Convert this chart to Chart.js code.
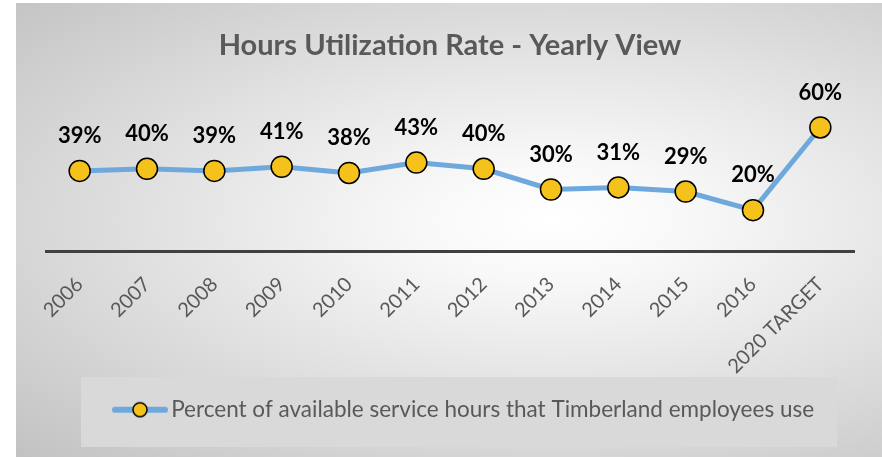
<!DOCTYPE html>
<html>
<head>
<meta charset="utf-8">
<script src="https://cdn.jsdelivr.net/npm/chart.js@4.4.0/dist/chart.umd.min.js"></script>
<style>
  html, body { margin: 0; padding: 0; background: #ffffff; }
  #wrap {
    position: absolute;
    left: 16px;
    top: 3px;
    width: 866px;
    height: 454px;
    background: radial-gradient(ellipse farthest-corner at 62% 48%, #ffffff 0%, #f8f8f8 18%, #c2c2c2 100%);
  }
</style>
</head>
<body>
<div id="wrap"><canvas id="util-chart"></canvas></div>
<script>
// Chart data
const years = ['2006', '2007', '2008', '2009', '2010', '2011', '2012', '2013', '2014', '2015', '2016', '2020 TARGET'];
const utilization = [39, 40, 39, 41, 38, 43, 40, 30, 31, 29, 20, 60];
const seriesName = 'Percent of available service hours that Timberland employees use';
const chartTitle = 'Hours Utilization Rate - Yearly View';

const LINE_BLUE = '#6fa8dc';
const MARKER_GOLD = '#f5c21b';
const TEXT_GRAY = '#595959';

// Legend symbol: short line with a marker in the middle (drawn right-aligned
// in a wider canvas so it sits close to the legend text).
const legendSymbol = document.createElement('canvas');
legendSymbol.width = 76;
legendSymbol.height = 22;
(function() {
    const c = legendSymbol.getContext('2d');
    c.strokeStyle = LINE_BLUE;
    c.lineWidth = 6;
    c.lineCap = 'round';
    c.beginPath();
    c.moveTo(21, 11);
    c.lineTo(71, 11);
    c.stroke();
    c.beginPath();
    c.arc(46, 11, 7, 0, Math.PI * 2);
    c.fillStyle = MARKER_GOLD;
    c.fill();
    c.lineWidth = 1.5;
    c.strokeStyle = '#000';
    c.stroke();
})();

// Grey box behind the legend, legend nudged right like the original.
const legendBox = {
    id: 'legendBox',
    afterLayout(chart) {
        chart.legend.left += 9;
        chart.legend.right += 9;
    },
    beforeDraw(chart) {
        const ctx = chart.ctx;
        ctx.save();
        ctx.fillStyle = '#d9d9d9';
        ctx.fillRect(65, 374, 756, 70);
        ctx.restore();
    }
};

// Value labels above each point.
const valueLabels = {
    id: 'valueLabels',
    afterDatasetsDraw(chart) {
        const ctx = chart.ctx;
        const meta = chart.getDatasetMeta(0);
        ctx.save();
        ctx.font = "bold 22px Lato";
        ctx.fillStyle = '#000000';
        ctx.textAlign = 'center';
        ctx.textBaseline = 'middle';
        meta.data.forEach((pt, i) => {
            ctx.fillText(utilization[i] + '%', pt.x, pt.y - 35);
        });
        ctx.restore();
    }
};

new Chart(document.getElementById('util-chart'), {
    type: 'line',
    data: {
        labels: years,
        datasets: [{
            label: seriesName,
            data: utilization,
            borderColor: LINE_BLUE,
            borderWidth: 5,
            tension: 0,
            pointRadius: 10.5,
            pointBackgroundColor: MARKER_GOLD,
            pointBorderColor: '#000000',
            pointBorderWidth: 1.5,
            pointStyle: 'circle'
        }]
    },
    options: {
        responsive: true,
        maintainAspectRatio: false,
        animation: false,
        layout: {
            padding: { left: 30, right: 28, top: 0, bottom: 26 }
        },
        plugins: {
            title: {
                display: true,
                text: chartTitle,
                color: TEXT_GRAY,
                font: { family: 'Lato', size: 29, weight: 'bold' },
                padding: { top: 25, bottom: 44 }
            },
            legend: {
                position: 'bottom',
                labels: {
                    usePointStyle: true,
                    pointStyle: legendSymbol,
                    pointStyleWidth: 56,
                    padding: 10,
                    color: TEXT_GRAY,
                    font: { family: 'Lato', size: 22.5 }
                }
            },
            tooltip: { enabled: false }
        },
        scales: {
            y: {
                display: false,
                min: 0,
                max: 70
            },
            x: {
                offset: true,
                grid: { display: false, drawTicks: false },
                border: { display: true, color: '#404040', width: 3 },
                ticks: {
                    color: TEXT_GRAY,
                    font: { family: 'Lato', size: 20 },
                    minRotation: 45,
                    maxRotation: 45,
                    padding: 21
                },
                afterFit(scale) {
                    scale.height = 137;
                }
            }
        }
    },
    plugins: [legendBox, valueLabels]
});
</script>
</body>
</html>
